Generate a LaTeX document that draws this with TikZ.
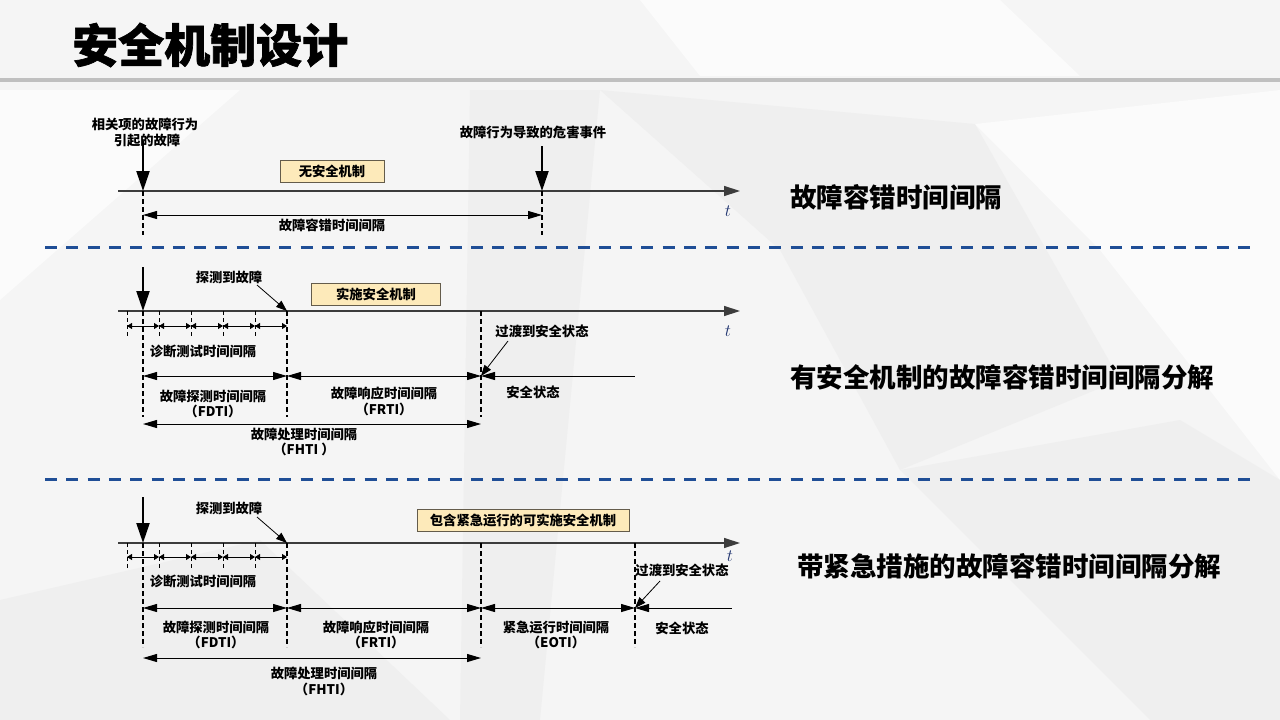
\documentclass[tikz,border=0pt]{standalone}
\usepackage{fontspec}
\newfontfamily\cjk{Noto Sans CJK SC}
\newfontfamily\cjkh{Noto Sans CJK SC}[BoldFeatures={FakeBold=1.5}]
\usetikzlibrary{arrows.meta}
\definecolor{boxfill}{RGB}{253,234,186}
\definecolor{boxdraw}{RGB}{100,92,75}
\definecolor{dblue}{RGB}{31,78,150}
\definecolor{axisgray}{RGB}{60,60,60}
\definecolor{tblue}{RGB}{30,50,110}
\definecolor{bgbase}{RGB}{245,245,245}
\definecolor{bgdark}{RGB}{239,239,239}
\definecolor{bglight}{RGB}{251,251,251}
\definecolor{rulegray}{RGB}{192,192,192}
\begin{document}
\begin{tikzpicture}[x=1pt,y=-1pt,
 lbl/.style={font=\cjk\bfseries\fontsize{13.3}{15}\selectfont, inner sep=0pt, align=center},
 biglbl/.style={font=\cjk\bfseries\fontsize{26.5}{30}\selectfont, inner sep=0pt, anchor=west},
 axisline/.style={draw=axisgray, line width=1.4, -{Triangle[length=16pt,width=10pt]}},
 downarr/.style={line width=2.2, -{Triangle[length=20pt,width=13pt]}},
 dim/.style={line width=1, {Triangle[length=14pt,width=8pt]}-{Triangle[length=14pt,width=8pt]}},
 diml/.style={line width=1, {Triangle[length=14pt,width=8pt]}-},
 vdash/.style={line width=1.4, dash pattern=on 5pt off 3pt},
 tickln/.style={line width=1, dash pattern=on 4pt off 3pt},
 tinydim/.style={line width=0.8, {Triangle[length=5pt,width=6pt]}-{Triangle[length=5pt,width=6pt]}},
 pointer/.style={line width=0.8, -{Triangle[length=11pt,width=8pt]}},
 mechbox/.style={draw=boxdraw, fill=boxfill, line width=0.8, minimum height=22pt, inner sep=0pt,
   font=\cjk\bfseries\fontsize{13.3}{15}\selectfont},
 tlbl/.style={font=\fontsize{18}{20}\selectfont, text=tblue, inner sep=0pt},
 sep/.style={draw=dblue, line width=3, dash pattern=on 12pt off 9.3pt},
]
\useasboundingbox (0,0) rectangle (1280,720);
% background
\fill[bgbase] (0,0) rectangle (1280,720);
\fill[bglight] (0,90) -- (240,90) -- (0,300) -- cycle;
\fill[bgdark] (600,90) -- (975,124) -- (1120,380) -- (900,470) -- (780,250) -- cycle;
\fill[bglight] (975,124) -- (1280,90) -- (1280,480) -- (1100,250) -- cycle;
\fill[bgdark] (900,470) -- (1180,420) -- (1280,480) -- (1280,720) -- (1150,720) -- cycle;
\fill[bgdark] (0,600) -- (260,540) -- (450,720) -- (0,720) -- cycle;
\fill[bgdark] (470,90) -- (600,90) -- (540,720) -- (460,720) -- cycle;
\fill[bglight] (640,0) -- (1000,0) -- (1080,76) -- (700,76) -- cycle;

% title
\node[anchor=west, inner sep=0pt, font=\cjkh\bfseries\fontsize{46}{50}\selectfont] (title) at (72,45) {安全机制设计};
\fill[rulegray] (0,78) rectangle (1280,82);

% ================= section 1
\coordinate (a1s) at (118,191); \coordinate (a1e) at (740,191);
\draw[axisline] (a1s) -- (a1e);
\node[tlbl] (t1) at (728,211) {$t$};
\node[lbl] (l1a) at (145,124) {相关项的故障行为};
\node[lbl] (l1b) at (147,140) {引起的故障};
\coordinate (f1top) at (143,141); \coordinate (f1) at (143,191);
\draw[downarr] (f1top) -- (f1);
\node[lbl] (l1c) at (533,132) {故障行为导致的危害事件};
\coordinate (h1top) at (542,146); \coordinate (h1) at (542,191);
\draw[downarr] (h1top) -- (h1);
\draw[vdash] (f1) -- (143,235);
\draw[vdash] (h1) -- (542,235);
\coordinate (d1a) at (143,215); \coordinate (d1b) at (542,215);
\draw[dim] (d1a) -- (d1b);
\node[lbl] (l1d) at (332,225) {故障容错时间间隔};
\node[mechbox, minimum width=104pt] (box1) at (332,171) {无安全机制};
\node[biglbl] (r1) at (790,197) {故障容错时间间隔};

\draw[sep] (45,247) -- (1250,247);

% ================= section 2
\coordinate (a2s) at (118,311); \coordinate (a2e) at (740,311);
\draw[axisline] (a2s) -- (a2e);
\node[tlbl] (t2) at (728,331) {$t$};
\coordinate (f2top) at (143,267); \coordinate (f2) at (143,311);
\draw[downarr] (f2top) -- (f2);
\coordinate (det2) at (287,311); \coordinate (tr2) at (481,311);
\draw[vdash] (f2) -- (143,417);
\draw[vdash] (det2) -- (287,417);
\draw[vdash] (tr2) -- (481,417);
\foreach \x in {127,159,191,223,255} \draw[tickln] (\x,311) -- (\x,338);
\foreach \a/\b in {127/159,159/191,191/223,223/255,255/287} \draw[tinydim] (\a,326) -- (\b,326);
\node[lbl] (dt2) at (203,351) {诊断测试时间间隔};
\node[lbl] (fd2) at (229,277) {探测到故障};
\coordinate (fd2p) at (257,285);
\draw[pointer] (fd2p) -- (det2);
\node[mechbox, minimum width=129pt] (box2) at (376,294) {实施安全机制};
\coordinate (p2a) at (143,376); \coordinate (p2b) at (287,376); \coordinate (p2c) at (481,376); \coordinate (p2d) at (635,376);
\draw[dim] (p2a) -- (p2b);
\draw[dim] (p2b) -- (p2c);
\draw[diml] (p2c) -- (p2d);
\node[lbl] (fdti2) at (213,396) {故障探测时间间隔};
\node[lbl] (fdti2b) at (213,411) {（FDTI）};
\node[lbl] (frti2) at (384,393) {故障响应时间间隔};
\node[lbl] (frti2b) at (384,409) {（FRTI）};
\node[lbl] (ss2a) at (542,331) {过渡到安全状态};
\coordinate (ss2p) at (508,341);
\draw[pointer] (ss2p) -- (p2c);
\node[lbl] (ss2) at (533,392) {安全状态};
\coordinate (h2a) at (143,424); \coordinate (h2b) at (481,424);
\draw[dim] (h2a) -- (h2b);
\node[lbl] (fhti2) at (304,434) {故障处理时间间隔};
\node[lbl] (fhti2b) at (304,449) {（FHTI ）};
\node[biglbl] (r2) at (790,377) {有安全机制的故障容错时间间隔分解};

\draw[sep] (45,479) -- (1250,479);

% ================= section 3
\coordinate (a3s) at (118,543); \coordinate (a3e) at (740,543);
\draw[axisline] (a3s) -- (a3e);
\node[tlbl] (t3) at (730,556) {$t$};
\coordinate (f3top) at (143,497); \coordinate (f3) at (143,543);
\draw[downarr] (f3top) -- (f3);
\coordinate (det3) at (287,543); \coordinate (eo3) at (481,543); \coordinate (tr3) at (635,543);
\draw[vdash] (f3) -- (143,647);
\draw[vdash] (det3) -- (287,647);
\draw[vdash] (eo3) -- (481,647);
\draw[vdash] (tr3) -- (635,647);
\foreach \x in {127,159,191,223,255} \draw[tickln] (\x,543) -- (\x,569);
\foreach \a/\b in {127/159,159/191,191/223,223/255,255/287} \draw[tinydim] (\a,557) -- (\b,557);
\node[lbl] (dt3) at (203,581) {诊断测试时间间隔};
\node[lbl] (fd3) at (229,508) {探测到故障};
\coordinate (fd3p) at (257,517);
\draw[pointer] (fd3p) -- (det3);
\node[mechbox, minimum width=212pt] (box3) at (523,520) {包含紧急运行的可实施安全机制};
\coordinate (p3a) at (143,608); \coordinate (p3b) at (287,608); \coordinate (p3c) at (481,608); \coordinate (p3d) at (635,608); \coordinate (p3e) at (732,608);
\draw[dim] (p3a) -- (p3b);
\draw[dim] (p3b) -- (p3c);
\draw[dim] (p3c) -- (p3d);
\draw[diml] (p3d) -- (p3e);
\node[lbl] (fdti3) at (216,627) {故障探测时间间隔};
\node[lbl] (fdti3b) at (216,642) {（FDTI）};
\node[lbl] (frti3) at (376,627) {故障响应时间间隔};
\node[lbl] (frti3b) at (376,642) {（FRTI）};
\node[lbl] (eoti3) at (556,627) {紧急运行时间间隔};
\node[lbl] (eoti3b) at (556,642) {（EOTI）};
\node[lbl] (ss3a) at (682,570) {过渡到安全状态};
\coordinate (ss3p) at (660,581);
\draw[pointer] (ss3p) -- (p3d);
\node[lbl] (ss3) at (682,628) {安全状态};
\coordinate (h3a) at (143,658); \coordinate (h3b) at (481,658);
\draw[dim] (h3a) -- (h3b);
\node[lbl] (fhti3) at (324,673) {故障处理时间间隔};
\node[lbl] (fhti3b) at (324,689) {（FHTI）};
\node[biglbl] (r3) at (797,566) {带紧急措施的故障容错时间间隔分解};
\end{tikzpicture}
\end{document}
